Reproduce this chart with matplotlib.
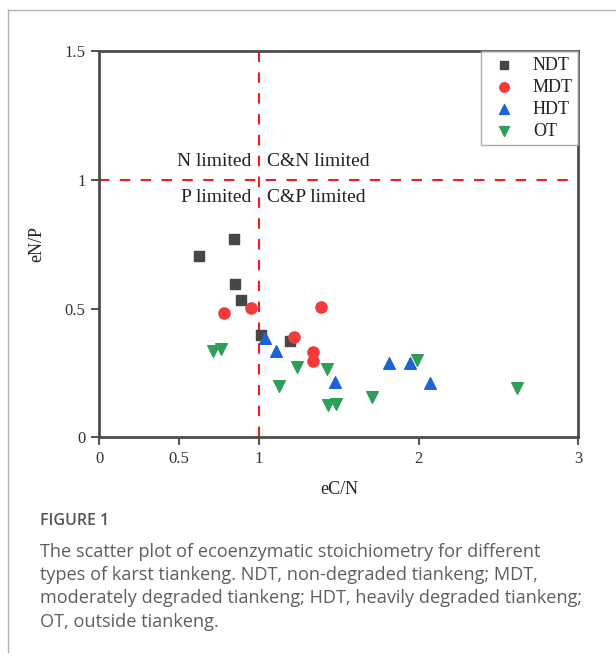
import matplotlib.pyplot as plt
from matplotlib.lines import Line2D

# eC/N vs eN/P for each tiankeng type
ndt_x = [0.845, 0.627, 0.847, 0.887, 1.012, 1.192]
ndt_y = [0.771, 0.703, 0.597, 0.532, 0.396, 0.374]

mdt_x = [0.784, 0.947, 1.389, 1.221, 1.341, 1.341]
mdt_y = [0.484, 0.504, 0.508, 0.388, 0.331, 0.295]

hdt_x = [1.040, 1.108, 1.475, 1.817, 1.943, 2.073]
hdt_y = [0.384, 0.335, 0.215, 0.287, 0.290, 0.212]

ot_x = [0.715, 0.763, 1.127, 1.236, 1.424, 1.433, 1.483, 1.709, 1.991, 2.619]
ot_y = [0.335, 0.344, 0.198, 0.275, 0.267, 0.127, 0.130, 0.158, 0.299, 0.193]

xticks = [0, 0.5, 1, 2, 3]
xticklabels = ["0", "0.5", "1", "2", "3"]
yticks = [0, 0.5, 1, 1.5]
yticklabels = ["0", "0.5", "1", "1.5"]

serif = ["Liberation Serif", "DejaVu Serif"]
W, H = 616, 659
fig = plt.figure(figsize=(W / 100, H / 100), dpi=100)

# page frame
fig.add_artist(Line2D([8 / W, 8 / W], [1 - 10 / H, 1 - 652 / H], color="#b0b0b0", lw=1))
fig.add_artist(Line2D([8 / W, 1], [1 - 10 / H, 1 - 10 / H], color="#b0b0b0", lw=1))

ax = fig.add_axes([99.3 / W, 1 - 437.3 / H, 479 / W, 386 / H])
ax.set_xlim(0, 3)
ax.set_ylim(0, 1.5)

ax.axvline(1, color="#ee1c25", ls=(0, (5, 5)), lw=1.5, zorder=1)
ax.axhline(1, color="#ee1c25", ls=(0, (5, 5)), lw=1.5, zorder=1)

ax.scatter(ndt_x, ndt_y, marker="s", s=55, color="#474747", label="NDT", zorder=3)
ax.scatter(mdt_x, mdt_y, marker="o", s=65, color="#f23b3b", label="MDT", zorder=3)
ax.scatter(hdt_x, hdt_y, marker="^", s=70, color="#1c64d6", label="HDT", zorder=3)
ax.scatter(ot_x, ot_y, marker="v", s=70, color="#2e9e5b", label="OT", zorder=3)

ax.text(0.95, 1.07, "N limited", ha="right", va="center", fontsize=14, family=serif, color="#222")
ax.text(1.05, 1.07, "C&N limited", ha="left", va="center", fontsize=14, family=serif, color="#222")
ax.text(0.95, 0.93, "P limited", ha="right", va="center", fontsize=14, family=serif, color="#222")
ax.text(1.05, 0.93, "C&P limited", ha="left", va="center", fontsize=14, family=serif, color="#222")

ax.set_xticks(xticks)
ax.set_xticklabels(xticklabels, family=serif, fontsize=12, color="#333")
ax.set_yticks(yticks)
ax.set_yticklabels(yticklabels, family=serif, fontsize=12, color="#333")
ax.tick_params(direction="out", length=6, width=1.5, color="#555", pad=4)
for s in ax.spines.values():
    s.set_color("#4d4d4d")
    s.set_linewidth(2)

ax.set_xlabel("eC/N", family=serif, fontsize=13, color="#222", labelpad=10)
ax.set_ylabel("eN/P", family=serif, fontsize=13, color="#222", labelpad=14)

leg = ax.legend(loc="upper right", prop={"family": serif, "size": 13}, frameon=True,
                fancybox=False, borderaxespad=0, handletextpad=0.6, labelspacing=0.28,
                scatterpoints=1, borderpad=0.3, markerscale=0.85)
leg.get_frame().set_edgecolor("#999")
leg.get_frame().set_linewidth(1)
for t in leg.get_texts():
    t.set_color("#222")

cap = ["Open Sans", "DejaVu Sans"]
fig.text(40 / W, 1 - 521 / H, "FIGURE 1", fontsize=11.5, family=cap, color="#555",
         va="center", weight="semibold")
caption = ("The scatter plot of ecoenzymatic stoichiometry for different\n"
           "types of karst tiankeng. NDT, non-degraded tiankeng; MDT,\n"
           "moderately degraded tiankeng; HDT, heavily degraded tiankeng;\n"
           "OT, outside tiankeng.")
fig.text(40 / W, 1 - 543 / H, caption, fontsize=13.1, family=cap, color="#5e5e5e",
         va="top", linespacing=1.37)

fig.savefig("out.png", dpi=100)
